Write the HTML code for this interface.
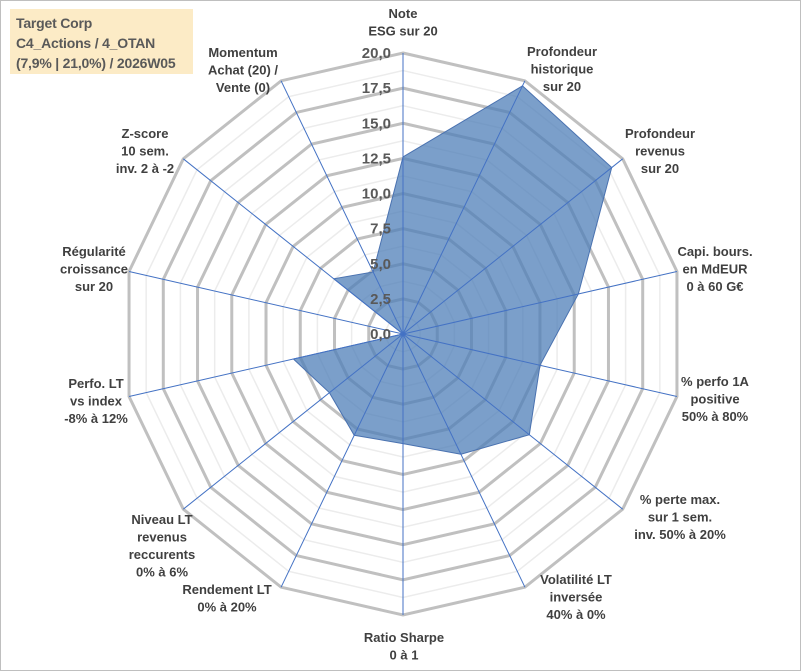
<!DOCTYPE html>
<html><head><meta charset="utf-8"><style>
body{margin:0;background:#fff;}
#wrap{position:relative;width:801px;height:671px;overflow:hidden;font-family:"Liberation Sans",sans-serif;}
svg{position:absolute;left:0;top:0;}
#title{position:absolute;left:10px;top:9px;width:183px;height:65px;background:#fcebc6;color:#595959;font-size:14px;line-height:20px;padding:4px 0 0 6px;box-sizing:border-box;font-weight:bold;letter-spacing:-0.2px;white-space:nowrap;}
</style></head><body>
<div id="wrap">
<svg id="chart" width="801" height="671"></svg>
<div id="title">Target Corp<br>C4_Actions / 4_OTAN<br>(7,9% | 21,0%) / 2026W05</div>
</div>
<script>
const categories=[["Note","ESG sur 20"],["Profondeur","historique","sur 20"],["Profondeur","revenus","sur 20"],["Capi. bours.","en MdEUR","0 à 60 G€"],["% perfo 1A","positive","50% à 80%"],["% perte max.","sur 1 sem.","inv. 50% à 20%"],["Volatilité LT","inversée","40% à 0%"],["Ratio Sharpe","0 à 1"],["Rendement LT","0% à 20%"],["Niveau LT","revenus","reccurents","0% à 6%"],["Perfo. LT","vs index","-8% à 12%"],["Régularité","croissance","sur 20"],["Z-score","10 sem.","inv. 2 à -2"],["Momentum","Achat (20) /","Vente (0)"]];
const values=[12.6,19.6,19.0,12.8,10.0,11.5,9.5,7.8,8.0,6.7,8.0,0,6.3,4.9];
const tickLabels=["0,0","2,5","5,0","7,5","10,0","12,5","15,0","17,5","20,0"];
const tickValues=[0,2.5,5,7.5,10,12.5,15,17.5,20];
const labelPos=[[403,13],[562,51],[660,133],[715,251],[715,381],[680,499],[576,579],[404,637],[227,589],[162,519],[96,383],[94,251],[145,133],[243,52]];
const cx=403,cy=334,R=281,maxV=20,N=categories.length;
const svg=document.getElementById('chart');
const NS='http://www.w3.org/2000/svg';
function pt(i,v){const a=2*Math.PI*i/N;const r=v/maxV*R;return [cx+r*Math.sin(a),cy-r*Math.cos(a)];}
function mk(t,at){const e=document.createElementNS(NS,t);for(const k in at)e.setAttribute(k,at[k]);svg.appendChild(e);return e;}
const border=mk('rect',{x:0.5,y:0.5,width:800,height:670,fill:'none',stroke:'#bfbfbf'});


for(let k=1;k<=16;k++){const v=k*1.25;const ps=[];for(let i=0;i<N;i++)ps.push(pt(i,v).join(','));
const major=k%2===0;
const g=mk('polygon',{points:ps.join(' '),fill:'none',stroke:major?'#c0c0c0':'#ececec','stroke-width':major?3:1.5});

}
const ps=values.map((v,i)=>pt(i,v).join(','));
const area=mk('polygon',{points:ps.join(' '),fill:'#4f7fb8','fill-opacity':0.75,stroke:'#4a72b0','stroke-width':1});


for(let i=0;i<N;i++){const p=pt(i,maxV);const s=mk('line',{x1:cx,y1:cy,x2:p[0],y2:p[1],stroke:'#4472c4','stroke-width':1});

}
tickValues.forEach((v,j)=>{const y=cy-v/maxV*R;const t=mk('text',{x:cx-12,y:y+5,'text-anchor':'end','font-size':15,'font-weight':'bold',fill:'#595959'});t.textContent=tickLabels[j];

});
categories.forEach((lines,i)=>{const [x,y]=labelPos[i];const t=mk('text',{'text-anchor':'middle','font-size':13,'font-weight':'bold',fill:'#404040'});


lines.forEach((l,j)=>{const ts=document.createElementNS(NS,'tspan');ts.setAttribute('x',x);ts.setAttribute('y',y+5+j*17.5);ts.textContent=l;t.appendChild(ts);});});
</script>
</body></html>
